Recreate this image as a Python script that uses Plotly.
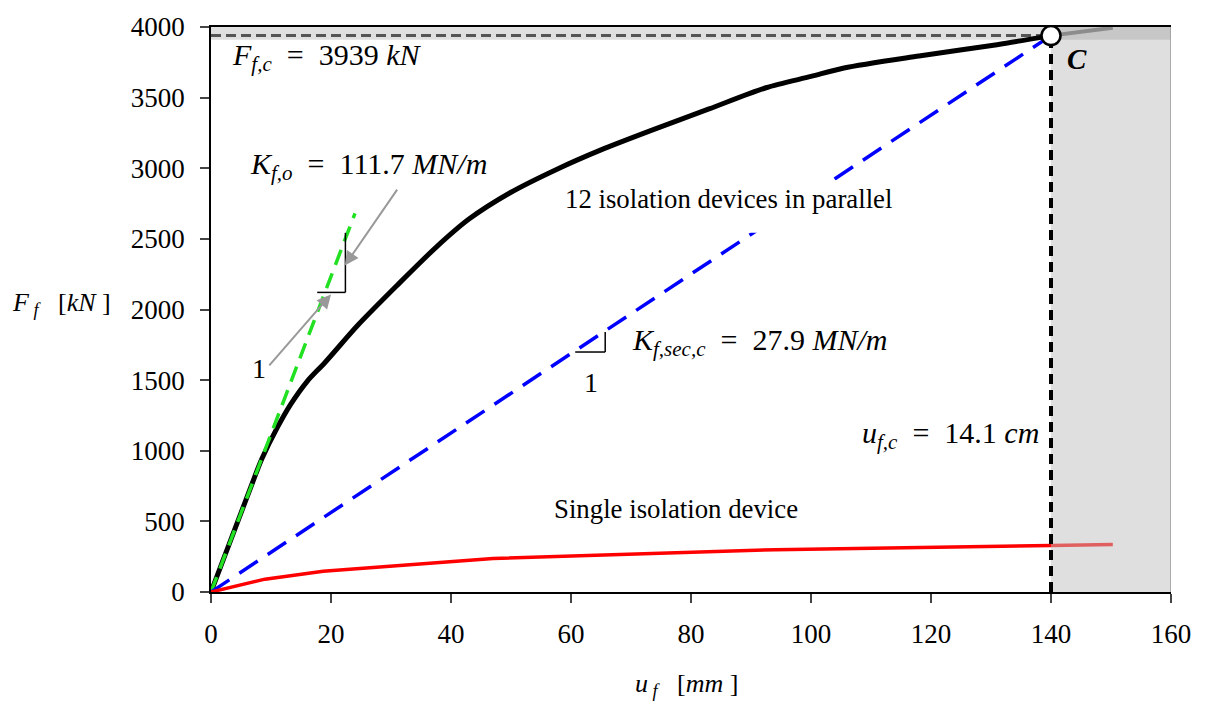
import plotly.graph_objects as go

# ---------------- data ----------------
# 12 isolation devices in parallel (force-displacement backbone)
uf_12 = [0, 7.5, 8.5, 11, 13.3, 16, 19, 24.5, 31, 37.5, 43, 50, 57.5, 65, 73.5, 83, 92.5, 100, 105.5, 118, 131, 140]
Ff_12 = [0, 840, 945, 1160, 1330, 1490, 1625, 1890, 2170, 2440, 2640, 2830, 2990, 3130, 3270, 3420, 3570, 3650, 3710, 3795, 3875, 3939]
uf_12_post = [140, 150.3]
Ff_12_post = [3939, 3995]

# single isolation device
uf_1 = [0, 9, 18.7, 47, 94, 140]
Ff_1 = [0, 91, 147, 237, 300, 330]
uf_1_post = [140, 150.3]
Ff_1_post = [330, 336]

K_fo = 111.7      # kN/mm (MN/m)
uf_green = [0, 24]
K_sec = 27.9
uc = 140          # mm
Fc = 3939         # kN

x_ticks = [0, 20, 40, 60, 80, 100, 120, 140, 160]
y_ticks = [0, 500, 1000, 1500, 2000, 2500, 3000, 3500, 4000]

FONT = "Liberation Serif"
NB = "\u2002"

fig = go.Figure()

# horizontal gray dashed line at Fc
fig.add_trace(go.Scatter(x=[0, uc], y=[Fc, Fc], mode="lines",
                         line=dict(color="#555555", width=3, dash="10px,5px"), hoverinfo="skip"))
# black curve
fig.add_trace(go.Scatter(x=uf_12, y=Ff_12, mode="lines",
                         line=dict(color="black", width=5, shape="spline", smoothing=0.8),
                         hoverinfo="skip"))
fig.add_trace(go.Scatter(x=uf_12_post, y=Ff_12_post, mode="lines",
                         line=dict(color="#8c8c8c", width=4), hoverinfo="skip"))
# green initial stiffness
fig.add_trace(go.Scatter(x=uf_green, y=[K_fo * u for u in uf_green], mode="lines",
                         line=dict(color="#22e022", width=3.5, dash="16px,9px"), hoverinfo="skip"))
# blue secant
fig.add_trace(go.Scatter(x=[0, uc], y=[0, Fc], mode="lines",
                         line=dict(color="#0000ff", width=3.5, dash="22px,12px"), hoverinfo="skip"))
# red single device
fig.add_trace(go.Scatter(x=uf_1, y=Ff_1, mode="lines",
                         line=dict(color="#ff0000", width=3.5), hoverinfo="skip"))
fig.add_trace(go.Scatter(x=uf_1_post, y=Ff_1_post, mode="lines",
                         line=dict(color="#e06060", width=3.5), hoverinfo="skip"))
# vertical black dashed at uc
fig.add_trace(go.Scatter(x=[uc, uc], y=[0, Fc], mode="lines",
                         line=dict(color="black", width=4, dash="10px,6px"), hoverinfo="skip"))
# point C
fig.add_trace(go.Scatter(x=[uc], y=[Fc], mode="markers",
                         marker=dict(size=19, color="white", line=dict(color="black", width=2.5)),
                         hoverinfo="skip"))

shapes = [
    dict(type="rect", xref="x", yref="y", x0=uc, x1=160, y0=0, y1=4000,
         fillcolor="rgba(128,128,128,0.25)", line=dict(width=0), layer="below"),
    dict(type="rect", xref="x", yref="y", x0=0, x1=160, y0=Fc - 30, y1=4000,
         fillcolor="rgba(128,128,128,0.25)", line=dict(width=0), layer="below"),
    dict(type="line", xref="x", yref="y", x0=160, x1=160, y0=0, y1=4000,
         line=dict(color="#999999", width=1.5)),
    # white mask behind the "12 isolation devices" label (hides secant line there)
    dict(type="rect", xref="x", yref="y", x0=70, x1=115, y0=2543, y1=2915,
         fillcolor="white", line=dict(width=0), layer="above"),
    # slope triangle K_f,o
    dict(type="line", xref="x", yref="y", x0=17.7, x1=22.4, y0=2121, y1=2121,
         line=dict(color="black", width=1.5)),
    dict(type="line", xref="x", yref="y", x0=22.4, x1=22.4, y0=2121, y1=2543,
         line=dict(color="black", width=1.5)),
    # slope triangle K_f,sec,c
    dict(type="line", xref="x", yref="y", x0=60.7, x1=65.7, y0=1699, y1=1699,
         line=dict(color="black", width=1.5)),
    dict(type="line", xref="x", yref="y", x0=65.7, x1=65.7, y0=1699, y1=1840,
         line=dict(color="black", width=1.5)),
]

ann = []
def txt(x, y, text, size, xanchor="left", yanchor="middle", **kw):
    d = dict(x=x, y=y, xref="x", yref="y", text=text, showarrow=False,
             xanchor=xanchor, yanchor=yanchor, font=dict(family=FONT, size=size, color="black"))
    d.update(kw)
    ann.append(d)

txt(3.2, 3790, f"<i>F</i><sub><i>f,c</i></sub>{NB}={NB}3939 <i>kN</i>", 30)
txt(144.3, 3770, "<b><i>C</i></b>", 29, xanchor="center")
txt(6.2, 3014, f"<i>K</i><sub><i>f,o</i></sub>{NB}={NB}111.7 <i>MN/m</i>", 30)
txt(8.0, 1580, "1", 28, xanchor="center")
txt(86.2, 2784, "12 isolation devices in parallel", 26.8, xanchor="center")
txt(69.8, 1769, f"<i>K</i><sub><i>f,sec,c</i></sub>{NB}={NB}27.9 <i>MN/m</i>", 30)
txt(63.3, 1482, "1", 28, xanchor="center")
txt(138.4, 1109, f"<i>u</i><sub><i>f,c</i></sub>{NB}={NB}14.1 <i>cm</i>", 30, xanchor="right")
txt(77.5, 590, "Single isolation device", 26.8, xanchor="center")

# arrows
ann.append(dict(x=20.0, y=2107, ax=9.5, ay=1594, xref="x", yref="y", axref="x", ayref="y",
                text="", showarrow=True, arrowhead=2, arrowsize=1.4, arrowwidth=2, arrowcolor="#999999"))
ann.append(dict(x=22.3, y=2311, ax=31.2, ay=2859, xref="x", yref="y", axref="x", ayref="y",
                text="", showarrow=True, arrowhead=2, arrowsize=1.4, arrowwidth=2, arrowcolor="#999999"))

# axis titles
ann.append(dict(x=-0.209, y=0.509, xref="paper", yref="paper", xanchor="left", yanchor="middle",
                text="<i>F</i><sub> <i>f</i></sub>\u2002 [<i>kN</i> ]", showarrow=False,
                font=dict(family=FONT, size=26, color="black")))
ann.append(dict(x=0.496, y=-0.164, xref="paper", yref="paper", xanchor="center", yanchor="middle",
                text="<i>u</i><sub> <i>f</i></sub>\u2002 [<i>mm</i> ]", showarrow=False,
                font=dict(family=FONT, size=26, color="black")))

fig.update_layout(
    width=1205, height=704,
    margin=dict(l=211, r=34, t=23, b=112),
    paper_bgcolor="white", plot_bgcolor="white",
    showlegend=False,
    shapes=shapes, annotations=ann,
    font=dict(family=FONT, size=27, color="black"),
)
fig.update_xaxes(range=[0, 160], tickvals=x_ticks, ticks="outside", ticklen=9, tickwidth=1.5,
                 showline=True, linecolor="black", linewidth=1.5, mirror=True,
                 showgrid=False, zeroline=False, ticklabelstandoff=8,
                 tickfont=dict(family=FONT, size=27, color="black"))
fig.update_yaxes(range=[0, 4000], tickvals=y_ticks, ticks="outside", ticklen=9, tickwidth=1.5,
                 showline=True, linecolor="black", linewidth=1.5,
                 showgrid=False, zeroline=False, ticklabelstandoff=10,
                 tickfont=dict(family=FONT, size=27, color="black"))

fig.write_html("out.html")
